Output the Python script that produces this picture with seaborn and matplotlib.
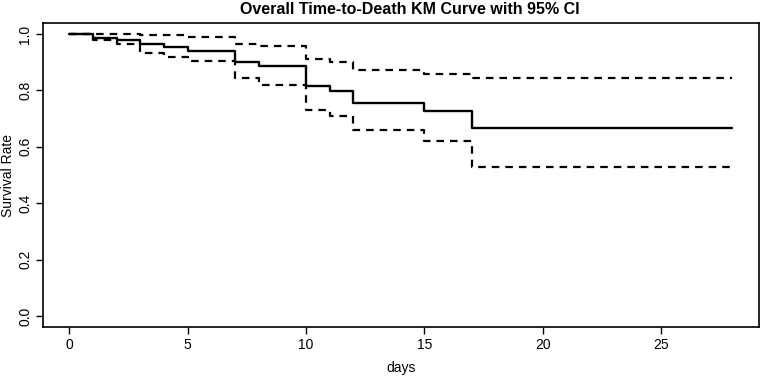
import pandas as pd
import matplotlib
matplotlib.use("Agg")
import matplotlib.pyplot as plt
import seaborn as sns

# step times (days) and KM estimates
days = [0, 1, 2, 3, 4, 5, 7, 8, 10, 11, 12, 15, 17, 28]
survival = [1.0, 0.987, 0.977, 0.963, 0.953, 0.940, 0.900, 0.885, 0.815, 0.797, 0.757, 0.727, 0.666, 0.666]
ci_upper = [1.0, 1.0, 1.0, 0.998, 0.995, 0.990, 0.966, 0.958, 0.912, 0.900, 0.872, 0.857, 0.844, 0.844]
ci_lower = [1.0, 0.977, 0.966, 0.934, 0.920, 0.903, 0.844, 0.818, 0.732, 0.708, 0.660, 0.622, 0.528, 0.528]

x_ticks = [0, 5, 10, 15, 20, 25]
y_ticks = [0.0, 0.2, 0.4, 0.6, 0.8, 1.0]

sns.set_style("white")
plt.rcParams['font.family'] = ['Liberation Sans', 'DejaVu Sans']
plt.rcParams.update({'text.color': 'black', 'axes.labelcolor': 'black',
                     'xtick.color': 'black', 'ytick.color': 'black'})

df = pd.DataFrame({'days': days, 'surv': survival, 'upper': ci_upper, 'lower': ci_lower})

fig = plt.figure(figsize=(7.62, 3.76), dpi=100)
ax = fig.add_axes([0.056, 0.1295, 0.9397, 0.8101])

dash = (0, (3.4, 2.7))
sns.lineplot(data=df, x='days', y='upper', ax=ax, color='black', lw=1.6,
             linestyle=dash, drawstyle='steps-post', estimator=None)
sns.lineplot(data=df, x='days', y='lower', ax=ax, color='black', lw=1.6,
             linestyle=dash, drawstyle='steps-post', estimator=None)
sns.lineplot(data=df, x='days', y='surv', ax=ax, color='black', lw=1.7,
             drawstyle='steps-post', estimator=None)

# R-style 4% padding on both axes
ax.set_xlim(-1.12, 29.12)
ax.set_ylim(-0.04, 1.04)
ax.set_xticks(x_ticks)
ax.set_xticklabels([str(t) for t in x_ticks], fontsize=10)
ax.set_yticks(y_ticks)
ax.set_yticklabels([f"{t:.1f}" for t in y_ticks], fontsize=10, rotation=90, va='center')
ax.tick_params(direction='out', length=5, width=1, colors='black', pad=2.5, left=True, bottom=True)

for s in ax.spines.values():
    s.set_color('black')
    s.set_linewidth(1.2)

ax.set_xlabel('days', fontsize=10, labelpad=7)
ax.set_ylabel('Survival Rate', fontsize=10, labelpad=2)
fig.text(0.538, 0.963, 'Overall Time-to-Death KM Curve with 95% CI', ha='center', va='baseline',
         fontsize=11.5, fontweight='bold')

fig.savefig('out.png', dpi=100)
